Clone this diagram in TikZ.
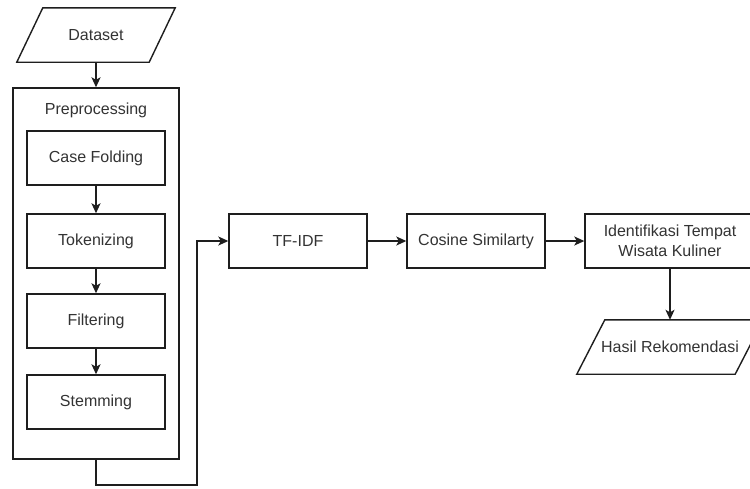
\documentclass[tikz,border=0pt]{standalone}
\usepackage{fontspec}
\setmainfont{Liberation Sans}
\usetikzlibrary{arrows.meta}
\definecolor{ln}{HTML}{1E1E1E}
\definecolor{tx}{HTML}{333333}
\begin{document}
\begin{tikzpicture}[x=1pt,y=-1pt,
  font=\fontsize{16}{20}\selectfont, text=tx,
  line/.style={draw=ln, line width=1.4pt},
  arr/.style={line, -{Stealth[length=10pt,width=9pt,inset=2.5pt]}},
  proc/.style={line, rectangle, inner sep=0pt, minimum width=138pt, minimum height=54pt, align=center},
  iobox/.style={rectangle, inner sep=0pt, minimum height=54pt, align=center},
  lbl/.style={inner sep=0pt}
]
\useasboundingbox (0,0) rectangle (750,488);
\clip (0,0) rectangle (750,488);
\fill[white] (0,0) rectangle (750,488);

% Dataset (parallelogram)
\node[iobox, minimum width=132pt] (ds) at (96,35) {Dataset};
\draw[line] ([xshift=13pt]ds.north west) -- ([xshift=13pt]ds.north east)
  -- ([xshift=-13pt]ds.south east) -- ([xshift=-13pt]ds.south west) -- cycle;

% Preprocessing container
\node[line, rectangle, inner sep=0pt, minimum width=166pt, minimum height=371pt] (pre) at (96,273.5) {};
\node[lbl] (pretitle) at (96,110) {Preprocessing};

\node[proc] (cf) at (96,158) {Case Folding};
\node[proc] (tok) at (96,241) {Tokenizing};
\node[proc] (fil) at (96,321) {Filtering};
\node[proc] (stem) at (96,402) {Stemming};

\node[proc] (tfidf) at (298,241) {TF-IDF};
\node[proc] (cos) at (476,241) {Cosine Similarty};
\node[proc, minimum width=170pt] (idt) at (670,241) {Identifikasi Tempat\\Wisata Kuliner};

% Hasil Rekomendasi (parallelogram)
\node[iobox, minimum width=158pt] (hasil) at (670,347) {Hasil Rekomendasi};
\draw[line] ([xshift=14pt]hasil.north west) -- ([xshift=14pt]hasil.north east)
  -- ([xshift=-14pt]hasil.south east) -- ([xshift=-14pt]hasil.south west) -- cycle;

% connectors
\draw[arr] (ds.south) -- (pre.north);
\draw[arr] (cf.south) -- (tok.north);
\draw[arr] (tok.south) -- (fil.north);
\draw[arr] (fil.south) -- (stem.north);
\coordinate (c1) at (96,485);
\coordinate (c2) at (197,485);
\draw[arr] (pre.south) -- (c1) -- (c2) |- (tfidf.west);
\draw[arr] (tfidf.east) -- (cos.west);
\draw[arr] (cos.east) -- (idt.west);
\draw[arr] (idt.south) -- (hasil.north);
\end{tikzpicture}
\end{document}
